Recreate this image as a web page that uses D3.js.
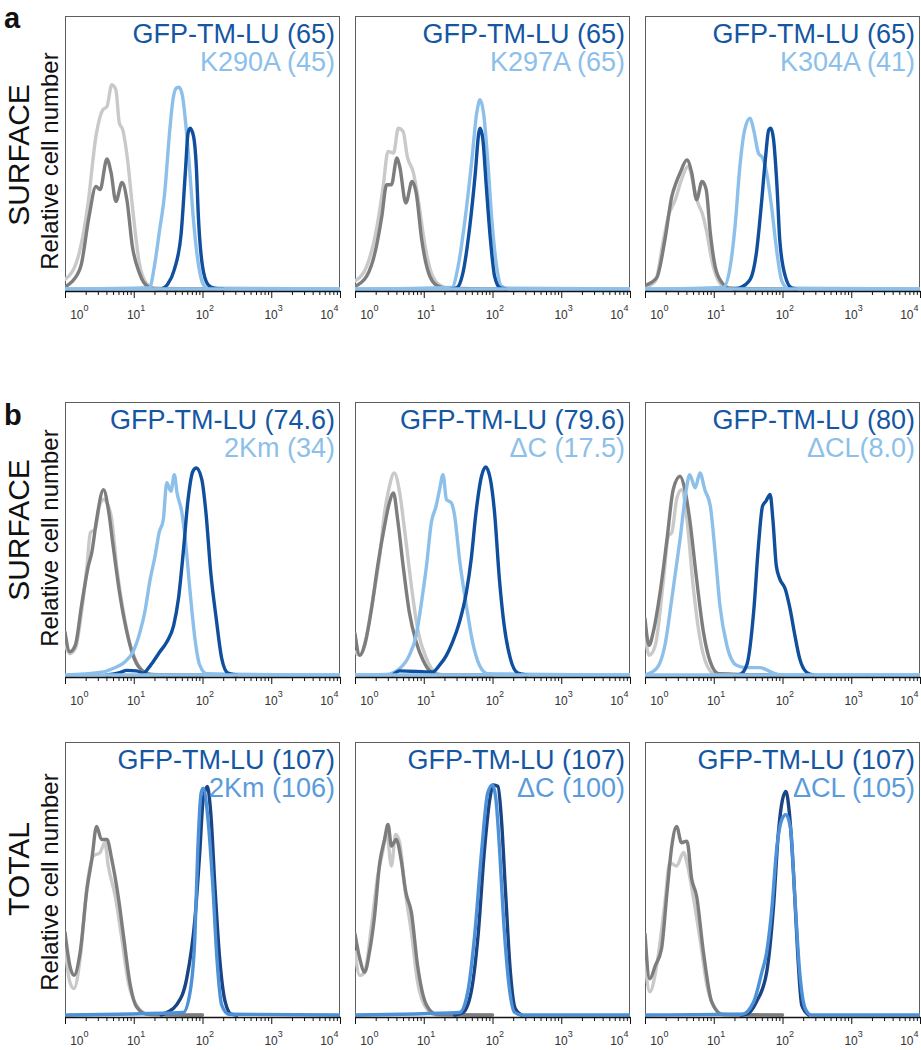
<!DOCTYPE html>
<html>
<head>
<meta charset="utf-8">
<script src="https://d3js.org/d3.v7.min.js"></script>
<style>
  body { margin: 0; background: #fff; }
  svg { display: block; font-family: "Liberation Sans", Arial, Helvetica, sans-serif; }
  .frame { fill: none; stroke: #5e5e5e; stroke-width: 1; }
  .axis path, .axis line { stroke: #111; }
  .axis path { stroke-width: 1.4; }
  .hist { fill: none; stroke-width: 3.4; stroke-linejoin: round; stroke-linecap: round; }
</style>
</head>
<body>
<div id="chart"></div>
<script>
// x values are log10 of fluorescence (0 = 10^0 ... 4 = 10^4), y = % of panel height
// row a
const a1CtrlDark = [[0,0.8],[0.09,2.4],[0.23,8.3],[0.35,26.6],[0.45,37.6],[0.51,36.4],[0.61,47.6],[0.67,42.6],[0.74,32.1],[0.83,39],[0.90,32.7],[0.98,15.6],[1.08,6],[1.20,1],[1.35,0],[2.2,0]];
const a1CtrlLight = [[0,3.5],[0.18,10.8],[0.33,30.3],[0.45,55.9],[0.55,65.6],[0.61,66.8],[0.68,74.8],[0.74,72.9],[0.79,60.8],[0.84,58.3],[0.91,47.3],[0.98,30.3],[1.08,9.6],[1.18,2.3],[1.30,0.4],[2.2,0]];
const a1Wt = [[1.40,0],[1.49,1.6],[1.59,7.1],[1.69,20.5],[1.75,42.5],[1.79,57.1],[1.82,58.9],[1.87,55.9],[1.91,44.9],[1.94,26.6],[2.00,8.3],[2.08,1.6],[2.17,0.3],[2.3,0]];
const a1Mut = [[0,0],[1.23,0.5],[1.30,8.3],[1.37,20.5],[1.45,35.2],[1.52,57.1],[1.57,69.3],[1.62,73.6],[1.66,73.9],[1.71,70.5],[1.76,59.5],[1.81,44.9],[1.86,27.9],[1.93,10.8],[2.00,2.3],[2.07,0.3],[4,0]];

const a2CtrlDark = [[0,1.0],[0.17,4.7],[0.29,13.2],[0.39,26.6],[0.46,38.2],[0.53,38.2],[0.61,48],[0.65,44.9],[0.74,31.5],[0.83,39.4],[0.89,35.2],[0.97,18.1],[1.07,5.9],[1.19,1.3],[1.33,0.3],[2.2,0]];
const a2CtrlLight = [[0,2.9],[0.17,8.3],[0.32,23],[0.41,37.6],[0.48,50.4],[0.56,49.8],[0.63,58.9],[0.70,57.7],[0.76,48.6],[0.85,42.5],[0.92,32.7],[1.02,15.6],[1.11,5.9],[1.24,1.3],[1.38,0.3],[2.2,0]];
const a2Wt = [[1.40,0],[1.48,0.4],[1.57,5.9],[1.67,23],[1.75,42.5],[1.80,57.1],[1.82,58.9],[1.86,54.7],[1.91,37.6],[1.97,18.1],[2.03,4.7],[2.11,0.4],[2.2,0]];
const a2Mut = [[0,0],[1.41,0.6],[1.50,8.3],[1.60,25.4],[1.70,47.3],[1.77,64.4],[1.82,69.3],[1.87,64.4],[1.93,47.3],[1.99,25.4],[2.06,8.3],[2.13,1],[2.21,0.3],[4,0]];

const a3CtrlDark = [[0,1.3],[0.17,4.1],[0.29,18.1],[0.39,33.9],[0.45,38.8],[0.51,42.5],[0.61,47.3],[0.68,42.5],[0.75,32.7],[0.83,39.4],[0.89,36.4],[0.95,20.5],[1.02,8.3],[1.12,2.3],[1.24,0.3],[2.2,0]];
const a3CtrlLight = [[0,0.6],[0.15,2.9],[0.27,18.1],[0.34,26.6],[0.44,32.7],[0.53,40],[0.63,44.9],[0.71,37.6],[0.77,31.5],[0.83,27.9],[0.89,21.8],[0.98,9.6],[1.07,2.9],[1.19,0.3],[2.2,0]];
const a3Wt = [[1.30,0],[1.38,0.4],[1.53,3.5],[1.62,13.2],[1.69,30.3],[1.75,47.3],[1.80,58.3],[1.83,58.9],[1.87,54.7],[1.92,37.6],[1.96,18.1],[2.04,4.7],[2.13,0.4],[2.2,0]];
const a3Mut = [[0,0],[1.14,0.6],[1.24,8.3],[1.31,23],[1.38,44.9],[1.45,58.3],[1.53,62.6],[1.58,58.3],[1.65,49.8],[1.71,48],[1.77,42.5],[1.84,30.3],[1.92,13.2],[1.99,2.9],[2.08,0.3],[4,0]];

// row b, surface
const b1CtrlDark = [[0,15.7],[0.07,8.5],[0.15,10.9],[0.24,25.4],[0.34,40],[0.39,44.9],[0.46,57],[0.56,67.9],[0.63,60.7],[0.70,47.3],[0.80,29.1],[0.90,15.7],[0.99,7.2],[1.09,2.4],[1.24,0.2],[2.0,0]];
const b1CtrlLight = [[0,12.1],[0.07,7.8],[0.15,9.7],[0.24,23],[0.32,40],[0.37,52.2],[0.44,53.4],[0.50,61.9],[0.56,64.3],[0.61,63.1],[0.68,57],[0.75,40],[0.85,23],[0.95,10.9],[1.04,4.8],[1.19,0.7],[1.33,0],[2.0,0]];
const b1Wt = [[0.6,0],[0.80,0.9],[0.90,1.7],[1.04,1.5],[1.14,0.7],[1.21,2.4],[1.28,4.8],[1.38,8.5],[1.48,12.1],[1.58,18.1],[1.65,27.9],[1.72,44.9],[1.79,64.3],[1.86,74.6],[1.91,75.8],[1.99,71.6],[2.05,59.5],[2.12,37.6],[2.20,20.6],[2.28,6],[2.37,0.7],[2.5,0]];
const b1Mut = [[0,0],[0.51,0.9],[0.70,2.4],[0.87,4.8],[0.99,8.5],[1.09,15.7],[1.16,23],[1.24,35.2],[1.31,43.6],[1.37,52.2],[1.43,57],[1.48,70.4],[1.54,67.3],[1.59,73.4],[1.63,66.7],[1.70,59.5],[1.75,49.7],[1.82,30.3],[1.89,13.3],[1.96,3.6],[2.06,0.5],[4,0]];

const b2CtrlDark = [[0,15.1],[0.07,7.2],[0.14,10.9],[0.24,24.2],[0.33,40],[0.43,54.6],[0.50,63.1],[0.56,66.7],[0.62,57],[0.70,40],[0.79,23],[0.89,12.1],[0.99,5.4],[1.11,1],[1.23,0],[2.0,0]];
const b2CtrlLight = [[0,8.5],[0.07,7.2],[0.16,13.3],[0.26,27.9],[0.36,43.6],[0.43,59.5],[0.49,67.9],[0.57,74],[0.65,66.7],[0.72,53.4],[0.82,32.7],[0.91,16.9],[1.04,6],[1.18,0.7],[1.3,0],[2.0,0]];
const b2Wt = [[0.55,0],[0.65,1.5],[1.13,1.1],[1.23,3.6],[1.33,7.2],[1.42,12.1],[1.52,19.4],[1.62,30.3],[1.69,42.4],[1.76,59.5],[1.84,72.8],[1.90,76.2],[1.97,71.6],[2.03,59.5],[2.10,35.2],[2.17,18.1],[2.26,6],[2.37,0.7],[2.5,0]];
const b2Mut = [[0,0],[0.45,0.2],[0.65,2.4],[0.79,7.2],[0.89,14.5],[0.96,25.4],[1.04,40],[1.11,55.8],[1.18,61.9],[1.23,67.9],[1.28,73.4],[1.33,64.3],[1.40,63.1],[1.45,58.2],[1.52,42.4],[1.62,25.4],[1.71,12.1],[1.81,3.6],[1.93,0.5],[4,0]];

const b3CtrlDark = [[0,20.6],[0.06,10.9],[0.12,15.7],[0.22,30.3],[0.32,49.7],[0.41,67.9],[0.51,72.8],[0.58,67.9],[0.65,57],[0.75,35.2],[0.85,15.7],[0.95,4.8],[1.07,0.5],[2.0,0]];
const b3CtrlLight = [[0,15.7],[0.06,7.2],[0.15,10.9],[0.27,35.2],[0.34,50.9],[0.39,52.2],[0.46,64.3],[0.53,67.9],[0.61,57],[0.70,32.7],[0.80,13.3],[0.90,3.6],[1.02,0.2],[2.0,0]];
const b3Wt = [[1.30,0],[1.38,0.2],[1.48,3.6],[1.58,23],[1.65,47.3],[1.71,61.9],[1.76,63.7],[1.82,66.1],[1.86,57],[1.91,40],[1.96,35.2],[2.04,31.5],[2.11,24.2],[2.18,14.5],[2.25,6],[2.35,1],[2.45,0]];
const b3Mut = [[0,0],[0.17,2.4],[0.29,10.9],[0.39,27.9],[0.51,49.7],[0.60,67.9],[0.65,73.4],[0.73,68.6],[0.80,74],[0.87,67.9],[0.95,61.9],[1.02,44.9],[1.09,25.4],[1.19,10.9],[1.33,3.6],[1.48,2.7],[1.67,2.7],[1.87,0.7],[2.0,0],[4,0]];

// row b, total
const t1CtrlDark = [[0,30.3],[0.07,18.1],[0.13,14.5],[0.22,23],[0.32,46.1],[0.39,57],[0.46,69.1],[0.53,64.3],[0.61,64.3],[0.68,57],[0.78,42.4],[0.85,29.1],[0.95,10.9],[1.04,3],[1.19,0.3],[2.0,0]];
const t1CtrlLight = [[0,25.4],[0.07,12.1],[0.13,9.7],[0.22,20.6],[0.32,47.3],[0.41,58.2],[0.51,59.5],[0.58,63.1],[0.63,54.6],[0.73,43.6],[0.82,29.1],[0.92,12.1],[1.04,3.6],[1.21,0.3],[2.0,0]];
const t1Wt = [[1.40,0],[1.48,0.9],[1.62,3.6],[1.77,13.3],[1.89,35.2],[1.96,59.5],[2.01,78.9],[2.07,83.7],[2.12,74],[2.18,47.3],[2.25,20.6],[2.33,4.8],[2.42,0.3],[2.5,0]];
const t1Mut = [[0,0],[1.72,0.9],[1.82,8.5],[1.89,29.1],[1.93,59.5],[1.98,81.3],[2.01,83.1],[2.08,71.6],[2.15,47.3],[2.21,20.6],[2.28,3.6],[2.38,0.3],[4,0]];

const t2CtrlDark = [[0,29.7],[0.07,20.6],[0.14,15.7],[0.21,23],[0.28,35.2],[0.36,55.8],[0.43,64.3],[0.48,69.8],[0.53,61.9],[0.60,64.3],[0.67,57],[0.74,44.9],[0.82,37.6],[0.91,18.1],[1.04,3.6],[1.18,0.3],[2.0,0]];
const t2CtrlLight = [[0,23],[0.07,14.5],[0.14,15.7],[0.24,32.7],[0.33,50.9],[0.40,59.5],[0.46,66.7],[0.53,54.6],[0.59,66.1],[0.65,63.1],[0.72,47.3],[0.82,30.3],[0.91,12.1],[1.04,2.4],[1.18,0],[2.0,0]];
const t2Wt = [[1.45,0],[1.57,0.9],[1.69,8.5],[1.79,29.1],[1.88,59.5],[1.96,78.9],[2.01,84.3],[2.08,83.7],[2.13,71.6],[2.19,44.9],[2.26,15.7],[2.33,2.4],[2.42,0]];
const t2Mut = [[0,0],[1.52,0.9],[1.64,8.5],[1.74,29.1],[1.84,59.5],[1.93,81.3],[2.00,84.3],[2.05,78.9],[2.10,61.9],[2.16,35.2],[2.24,10.9],[2.32,1],[2.42,0],[4,0]];

const t3CtrlDark = [[0,29.7],[0.07,13.3],[0.15,18.1],[0.24,24.2],[0.32,44.9],[0.39,61.9],[0.46,69.1],[0.53,63.1],[0.61,63.7],[0.68,49.7],[0.75,43.6],[0.85,23],[0.97,4.8],[1.12,0.3],[2.0,0]];
const t3CtrlLight = [[0,19.4],[0.07,8.5],[0.17,18.1],[0.29,41.2],[0.36,55.8],[0.46,54.6],[0.56,59.5],[0.63,53.4],[0.70,43.6],[0.80,27.9],[0.90,10.9],[1.02,2.4],[1.15,0],[2.0,0]];
const t3Wt = [[1.40,0],[1.48,0.3],[1.62,4.8],[1.77,15.7],[1.87,40],[1.94,66.7],[2.00,78.9],[2.05,81.9],[2.10,74],[2.16,52.2],[2.22,23],[2.28,3.6],[2.38,0]];
const t3Mut = [[0,0],[1.41,0.3],[1.58,4.8],[1.70,15.7],[1.77,23],[1.84,37.6],[1.92,61.9],[1.99,71.6],[2.05,73.4],[2.12,67.9],[2.17,47.3],[2.25,15.7],[2.33,2.4],[2.42,0],[4,0]];

const wtLabels = ["GFP-TM-LU (65)", "GFP-TM-LU (65)", "GFP-TM-LU (65)",
                  "GFP-TM-LU (74.6)", "GFP-TM-LU (79.6)", "GFP-TM-LU (80)",
                  "GFP-TM-LU (107)", "GFP-TM-LU (107)", "GFP-TM-LU (107)"];
const mutLabels = ["K290A (45)", "K297A (65)", "K304A (41)",
                   "2Km (34)", "\u0394C (17.5)", "\u0394CL(8.0)",
                   "2Km (106)", "\u0394C (100)", "\u0394CL (105)"];
const rowLabels = ["SURFACE", "SURFACE", "TOTAL"];
const panelLetters = ["a", "b", null];
const decades = [0, 1, 2, 3, 4];

const panelCurves = [
  [a1CtrlLight, a1CtrlDark, a1Wt, a1Mut], [a2CtrlLight, a2CtrlDark, a2Wt, a2Mut], [a3CtrlLight, a3CtrlDark, a3Wt, a3Mut],
  [b1CtrlLight, b1CtrlDark, b1Wt, b1Mut], [b2CtrlLight, b2CtrlDark, b2Wt, b2Mut], [b3CtrlLight, b3CtrlDark, b3Wt, b3Mut],
  [t1CtrlLight, t1CtrlDark, t1Wt, t1Mut], [t2CtrlLight, t2CtrlDark, t2Wt, t2Mut], [t3CtrlLight, t3CtrlDark, t3Wt, t3Mut]
];

// layout
const W = 921, H = 1050;
const rowTop = [16, 402, 742];
const colLeft = [65, 355, 645];
const pw = 275, ph = 275;
const rowLabelY = [139, 128, 127];
const relLabelY = [145, 136, 140];

const grayLight = "#c9c9c9", grayDark = "#7d7d7d";
const blueDark = "#0f4f9e", blueLight = "#8cc0ea";
const navy = "#1b4485", blueMid = "#4d91d9";
const textDark = "#1556a3";

const svg = d3.select("#chart").append("svg")
  .attr("width", W).attr("height", H);

const defs = svg.append("defs");

panelCurves.forEach((curves, i) => {
  const r = Math.floor(i / 3), c = i % 3;
  const left = colLeft[c], top = rowTop[r], bottom = top + ph;

  const x = d3.scaleLog().domain([1, 1e4]).range([left, left + pw]);
  const y = d3.scaleLinear().domain([0, 100]).range([bottom - 2, top]);

  defs.append("clipPath").attr("id", "clip" + i)
    .append("rect").attr("x", left).attr("y", top).attr("width", pw).attr("height", ph);

  const g = svg.append("g");

  g.append("rect").attr("class", "frame")
    .attr("x", left + 0.5).attr("y", top + 0.5)
    .attr("width", pw - 1).attr("height", ph);

  const line = d3.line()
    .x(d => x(Math.pow(10, d[0])))
    .y(d => y(d[1]))
    .curve(d3.curveMonotoneX);

  const total = r === 2;
  const [ctrlLight, ctrlDark, wt, mut] = curves;
  // drawing order follows the picture: in the total row the mutant lies on top
  const layers = total
    ? [[ctrlLight, grayLight], [ctrlDark, grayDark], [wt, navy], [mut, blueMid]]
    : [[ctrlLight, grayLight], [ctrlDark, grayDark], [mut, blueLight], [wt, blueDark]];

  const plot = g.append("g").attr("clip-path", "url(#clip" + i + ")");
  layers.forEach(([data, col]) => {
    plot.append("path").attr("class", "hist")
      .attr("d", line(data))
      .attr("stroke", col);
  });
  if (!total) {
    // the mutant's zero line stays visible over the blue one
    plot.append("path").attr("class", "hist")
      .attr("d", line([mut[0], mut[mut.length - 1]]))
      .attr("stroke", blueLight).attr("stroke-width", 2.6);
  }

  // log axis: minor and major ticks
  const minor = [];
  for (let k = 0; k < 4; k++) for (let m = 2; m <= 9; m++) minor.push(m * Math.pow(10, k));
  const major = decades.map(k => Math.pow(10, k));

  g.append("g").attr("class", "axis")
    .attr("transform", `translate(0,${bottom})`)
    .call(d3.axisBottom(x).tickValues(minor).tickSize(4).tickSizeOuter(0).tickFormat(""));
  g.append("g").attr("class", "axis")
    .attr("transform", `translate(0,${bottom})`)
    .call(d3.axisBottom(x).tickValues(major).tickSize(7).tickSizeOuter(0).tickFormat(""))
    .select(".domain").remove();

  const shift = [12, 0, 0, 0, -13];
  decades.forEach((k, j) => {
    const t = g.append("text")
      .attr("x", x(Math.pow(10, k)) + shift[j] - 6.8)
      .attr("y", bottom + 28)
      .attr("font-size", 12)
      .attr("fill", "#333");
    t.append("tspan").text("10");
    t.append("tspan").attr("dy", -8.5).attr("font-size", 9).text(k);
  });

  // legend
  g.append("text")
    .attr("x", left + pw - 5).attr("y", top + 26.5)
    .attr("text-anchor", "end").attr("font-size", 27)
    .attr("fill", textDark)
    .text(wtLabels[i]);
  g.append("text")
    .attr("x", left + pw - 5).attr("y", top + 55)
    .attr("text-anchor", "end").attr("font-size", 27)
    .attr("fill", total ? "#5a9bdc" : blueLight)
    .text(mutLabels[i]);

  if (c === 0) {
    svg.append("text")
      .attr("transform", `translate(29,${top + rowLabelY[r]}) rotate(-90)`)
      .attr("text-anchor", "middle").attr("font-size", 30).attr("fill", "#111")
      .text(rowLabels[r]);
    svg.append("text")
      .attr("transform", `translate(58,${top + relLabelY[r]}) rotate(-90)`)
      .attr("text-anchor", "middle").attr("font-size", 24).attr("fill", "#111")
      .text("Relative cell number");
    if (panelLetters[r]) {
      svg.append("text")
        .attr("x", 4).attr("y", top + (r === 0 ? 12 : 23))
        .attr("font-size", 29).attr("font-weight", "bold").attr("fill", "#111")
        .text(panelLetters[r]);
    }
  }
});
</script>
</body>
</html>
